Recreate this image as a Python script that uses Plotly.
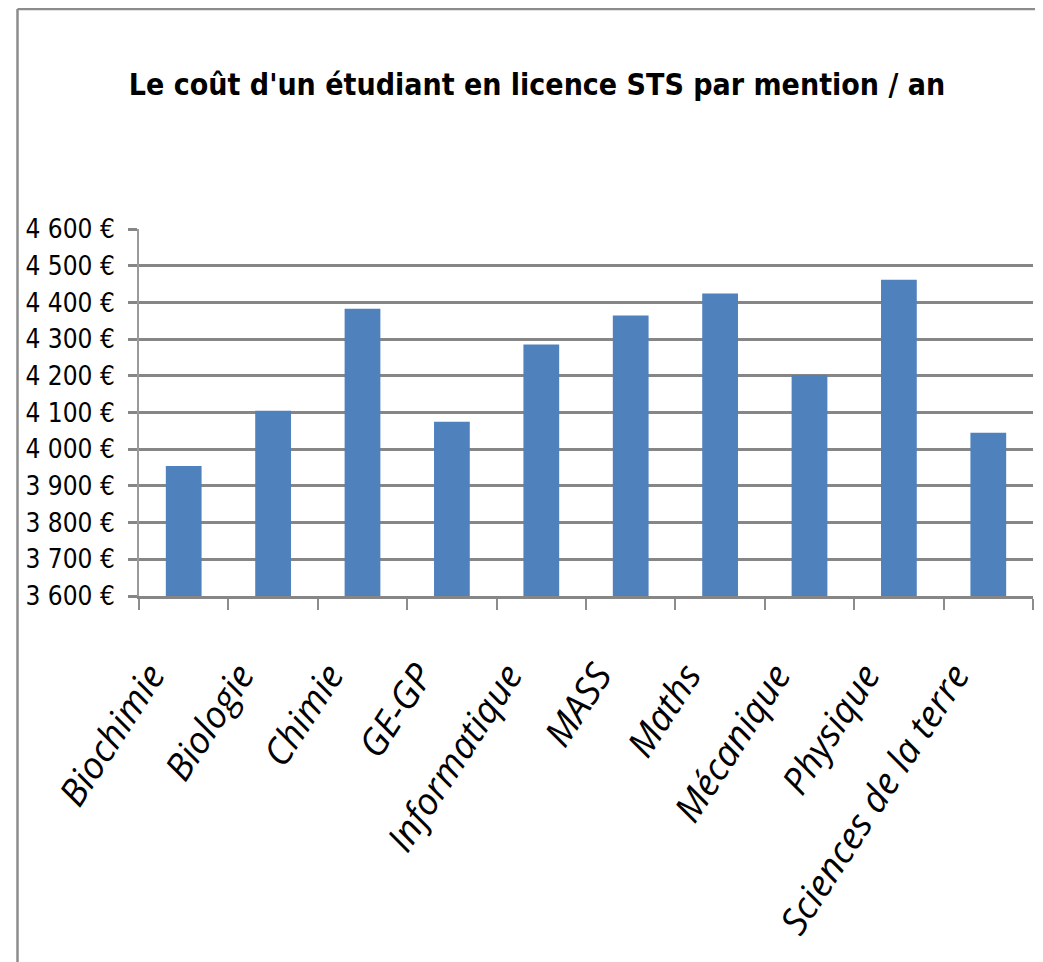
import plotly.graph_objects as go

categories = ["Biochimie", "Biologie", "Chimie", "GE-GP", "Informatique", "MASS",
              "Maths", "Mécanique", "Physique", "Sciences de la terre"]
couts = [3954, 4105, 4383, 4075, 4285, 4364, 4424, 4202, 4462, 4045]
y_ticks = [3600, 3700, 3800, 3900, 4000, 4100, 4200, 4300, 4400, 4500, 4600]
y_labels = ["3 600 €", "3 700 €", "3 800 €", "3 900 €", "4 000 €", "4 100 €",
            "4 200 €", "4 300 €", "4 400 €", "4 500 €", "4 600 €"]
title = "Le coût d'un étudiant en licence STS par mention / an"

OFF = 8  # page body margin
W, H = 1043 - OFF, 962 - OFF
L, R, T = 139 - OFF, 10, 229 - OFF
B = H - (596 - OFF)
pw, ph = W - L - R, H - T - B

fig = go.Figure()
fig.add_trace(go.Bar(x=categories, y=couts, marker=dict(color="#4F81BD", line=dict(width=0))))

def px_x(p):
    return (p - OFF - L) / pw
def px_y(p):
    return 1 - (p - OFF - T) / ph

fig.add_shape(type="line", xref="paper", yref="paper", x0=px_x(17.5), x1=px_x(1043),
              y0=px_y(9), y1=px_y(9), line=dict(color="#8C8C8C", width=2.5))
fig.add_shape(type="line", xref="paper", yref="paper", x0=px_x(17.5), x1=px_x(17.5),
              y0=px_y(9), y1=px_y(970), line=dict(color="#8C8C8C", width=2.5))

fig.update_layout(
    width=W, height=H,
    margin=dict(l=L, r=R, t=T, b=B, autoexpand=False),
    paper_bgcolor="white", plot_bgcolor="white",
    showlegend=False,
    bargap=0.6,
    title=dict(text="<b>" + title + "</b>", x=(537 - OFF) / W, xanchor="center",
               y=1 - (84 - OFF) / H, yanchor="middle",
               font=dict(family="DejaVu Sans Condensed", size=30, color="black")),
    font=dict(family="DejaVu Sans Condensed", color="black"),
)
fig.update_yaxes(range=[3600, 4600], tickvals=y_ticks, ticktext=y_labels,
                 showgrid=True, gridcolor="#868686", gridwidth=3,
                 ticks="outside", ticklen=9, tickwidth=3, tickcolor="#868686",
                 showline=True, linecolor="#9A9A9A", linewidth=2,
                 tickfont=dict(family="DejaVu Sans Condensed", size=26, color="black"),
                 zeroline=False, ticklabelstandoff=8)
fig.update_xaxes(type="category", tickson="boundaries", ticks="outside", ticklen=11,
                 tickwidth=2, tickcolor="#8C8C8C", showgrid=False,
                 showline=True, linecolor="#868686", linewidth=3,
                 tickvals=categories, ticktext=["<i>" + c + "</i>" for c in categories],
                 tickangle=-57, ticklabelstandoff=40, ticklabelshift=-33,
                 tickfont=dict(family="Open Sans", size=37, color="black", style="italic"))

fig.write_html("out.html")
